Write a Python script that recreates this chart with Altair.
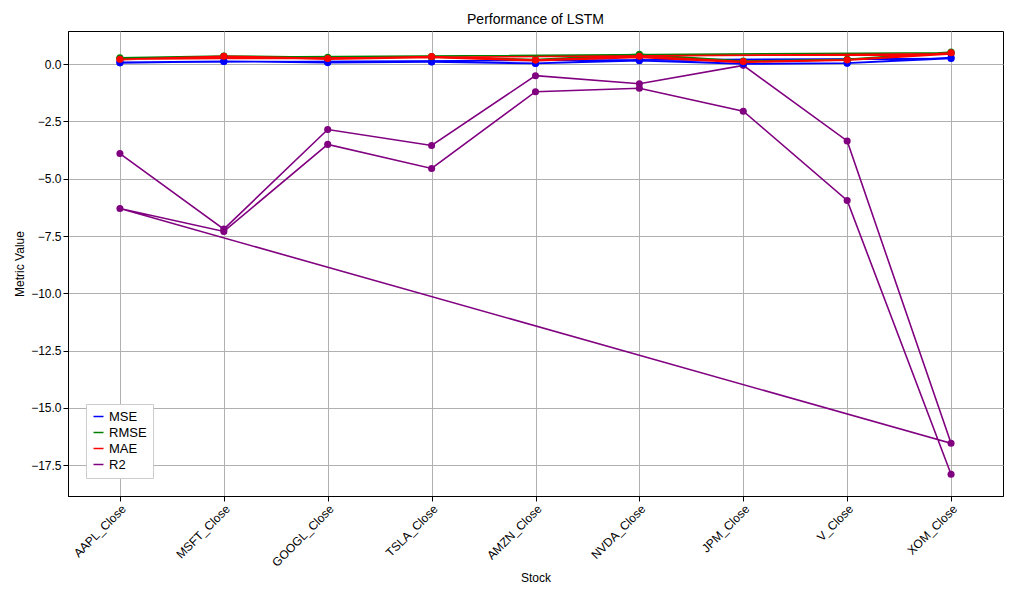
import altair as alt
import pandas as pd

stocks = ["AAPL_Close", "MSFT_Close", "GOOGL_Close", "TSLA_Close", "AMZN_Close",
          "NVDA_Close", "JPM_Close", "V_Close", "XOM_Close"]
metrics = ["MSE", "RMSE", "MAE", "R2"]
colors = ["blue", "green", "red", "purple"]

# two runs per metric, plotted back to back (line returns from XOM to AAPL)
mse = [0.06, 0.12, 0.07, 0.10, 0.03, 0.15, 0.01, 0.04, 0.25,
       0.08, 0.13, 0.09, 0.11, 0.04, 0.19, 0.02, 0.05, 0.28]
rmse = [0.25, 0.35, 0.27, 0.32, 0.17, 0.39, 0.10, 0.20, 0.50,
        0.28, 0.36, 0.30, 0.33, 0.20, 0.43, 0.14, 0.22, 0.53]
mae = [0.20, 0.33, 0.22, 0.30, 0.15, 0.30, 0.08, 0.17, 0.45,
       0.22, 0.35, 0.25, 0.34, 0.18, 0.35, 0.12, 0.19, 0.50]
r2 = [-3.9, -7.2, -2.85, -3.55, -0.5, -0.85, -0.05, -3.35, -16.55,
      -6.3, -7.3, -3.5, -4.55, -1.2, -1.05, -2.05, -5.95, -17.9]

rows = []
for m, vals in zip(metrics, [mse, rmse, mae, r2]):
    for i, v in enumerate(vals):
        rows.append({"Stock": stocks[i % 9], "Metric": m, "Value": v, "idx": i})
df = pd.DataFrame(rows)

base = alt.Chart(df).encode(
    x=alt.X("Stock:N", sort=stocks, title="Stock",
            axis=alt.Axis(labelAngle=-45, grid=True, gridColor="#b0b0b0", labelFontSize=12,
                          titleFontSize=12, titleFontWeight="normal")),
    y=alt.Y("Value:Q", title="Metric Value",
            scale=alt.Scale(domain=[-18.85, 1.45], nice=False, zero=False),
            axis=alt.Axis(values=[-17.5, -15, -12.5, -10, -7.5, -5, -2.5, 0], format=".1f",
                          gridColor="#b0b0b0", labelFontSize=12, titleFontSize=12,
                          titleFontWeight="normal")),
    color=alt.Color("Metric:N", sort=metrics, scale=alt.Scale(domain=metrics, range=colors),
                    legend=alt.Legend(orient="bottom-left", title=None, symbolType="stroke",
                                      fillColor="white", strokeColor="#ccc", padding=6, labelFontSize=13)),
    order="idx:Q",
    detail="Metric:N",
)
chart = alt.layer(
    base.mark_line(strokeWidth=1.6),
    base.mark_circle(size=50, opacity=1),
).properties(
    width=935, height=465,
    title=alt.TitleParams("Performance of LSTM", fontWeight="normal", fontSize=14),
).configure_view(stroke="black").configure_axis(domainColor="black", tickColor="black", labelColor="black")

chart.save("out.html", embed_options={"renderer": "svg", "actions": False})
